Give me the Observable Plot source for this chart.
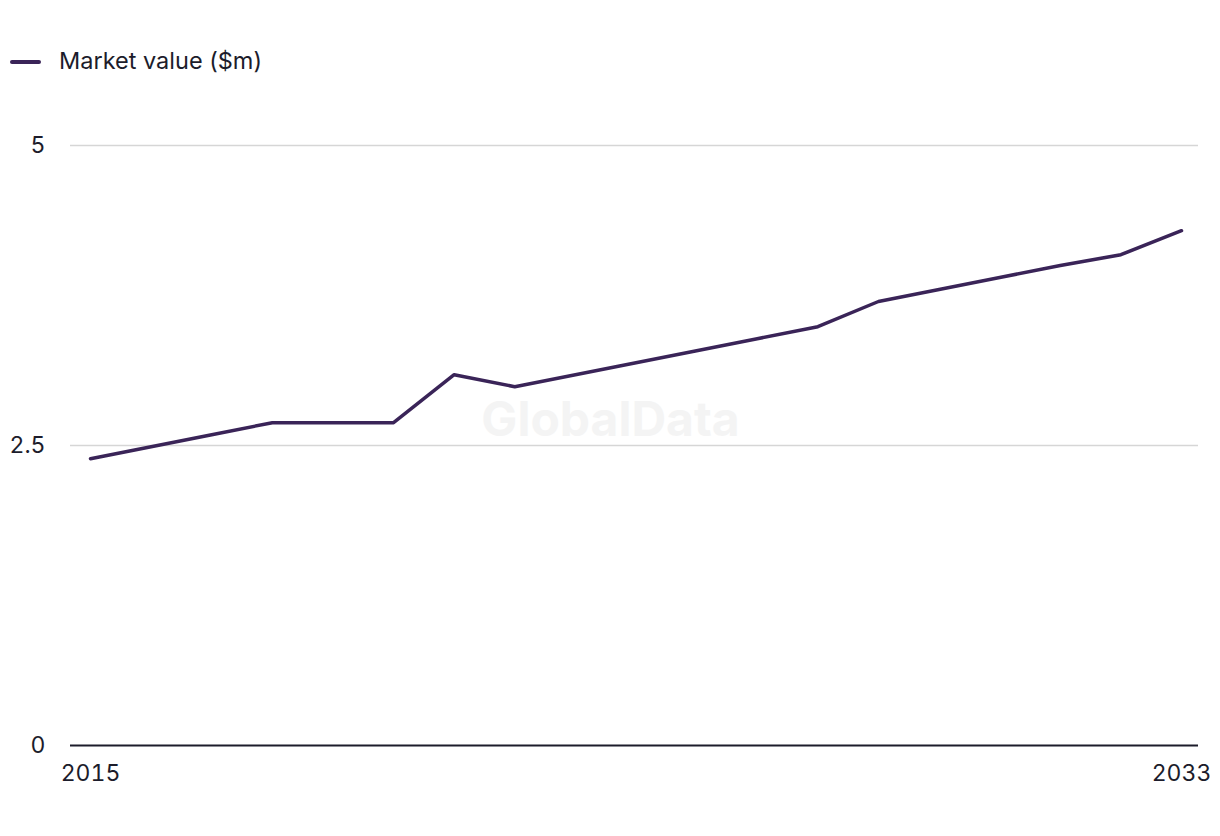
<!DOCTYPE html>
<html>
<head>
<meta charset="utf-8">
<script src="https://cdn.jsdelivr.net/npm/d3@7"></script>
<script src="https://cdn.jsdelivr.net/npm/@observablehq/plot@0.6"></script>
<style>
  html, body { margin: 0; padding: 0; background: #fff; }
  body { width: 1220px; height: 836px; overflow: hidden; font-family: Inter, "Liberation Sans", Arial, sans-serif; color: #1c1c2b; }
  #legend { height: 100px; position: relative; }
  #legend .sw { position: absolute; left: 10px; top: 60px; width: 31px; height: 4px; background: #3a2458; border-radius: 2px; }
  #legend .lb { position: absolute; left: 59px; top: 47px; font-size: 23.5px; line-height: 28px; }
  svg { display: block; }
</style>
</head>
<body>
<div id="legend"><div class="sw"></div><div class="lb">Market value ($m)</div></div>
<div id="chart"></div>
<script>
const years = [2015, 2016, 2017, 2018, 2019, 2020, 2021, 2022, 2023, 2024, 2025, 2026, 2027, 2028, 2029, 2030, 2031, 2032, 2033];
const marketValue = [2.39, 2.49, 2.59, 2.69, 2.69, 2.69, 3.09, 2.99, 3.09, 3.19, 3.29, 3.39, 3.49, 3.70, 3.80, 3.90, 4.00, 4.09, 4.29];
const yTicks = [0, 2.5, 5];
const xTicks = [2015, 2033];
const seriesName = "Market value ($m)";

const data = years.map((y, i) => ({year: y, value: marketValue[i]}));

const chart = Plot.plot({
  width: 1220,
  height: 736,
  marginTop: 45,
  marginBottom: 91,
  marginLeft: 70,
  marginRight: 22,
  style: {fontFamily: 'Inter, "Liberation Sans", Arial, sans-serif', fontSize: "23px", color: "#1c1c2b", background: "#fff"},
  x: {domain: [2015, 2033], insetLeft: 20, insetRight: 17},
  y: {domain: [0, 5]},
  marks: [
    Plot.gridY(yTicks.filter(d => d > 0), {stroke: "#d6d6d6", strokeOpacity: 1, strokeWidth: 1.5}),
    Plot.text(["GlobalData"], {frameAnchor: "middle", dx: -24, dy: -25, fill: "#f4f4f4", fontSize: 48, fontWeight: "bold"}),
    Plot.ruleY([0], {stroke: "#1c1c2b", strokeWidth: 2}),
    Plot.axisY(yTicks, {tickSize: 0, tickPadding: 25, tickFormat: d => String(d), fontSize: 23, label: null}),
    Plot.axisX(xTicks, {tickSize: 0, tickPadding: 19, tickFormat: d => String(d), fontSize: 23, label: null}),
    Plot.line(data, {x: "year", y: "value", stroke: "#3a2458", strokeWidth: 3.5, curve: "linear"})
  ]
});
document.getElementById("chart").appendChild(chart);
</script>
</body>
</html>
